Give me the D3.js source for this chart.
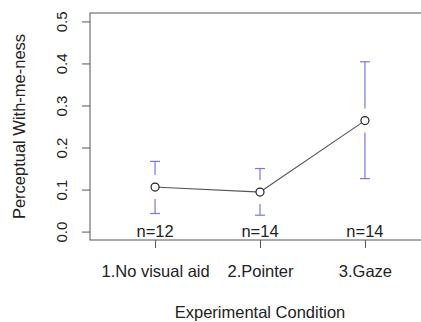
<!DOCTYPE html>
<html>
<head>
<meta charset="utf-8">
<script src="https://cdn.jsdelivr.net/npm/d3@7"></script>
<style>
  body { margin: 0; background: #fff; }
  text { font-family: "Liberation Sans", Arial, sans-serif; fill: #222; }
</style>
</head>
<body>
<script>
// data
const conditions = ["1.No visual aid", "2.Pointer", "3.Gaze"];
const means = [0.106, 0.094, 0.264];
const upper = [0.167, 0.150, 0.404];
const lower = [0.043, 0.039, 0.126];
const counts = [12, 14, 14];
const yTicks = [0, 0.1, 0.2, 0.3, 0.4, 0.5];

// canvas
const w = 421, h = 322;
const plotL = 90, plotT = 13, plotB = 240, plotR = 430;

const svg = d3.select("body").append("svg")
  .attr("width", w).attr("height", h);

// R style: x from 0.38 to 3.62, y with 4% padding
const xScale = d3.scaleLinear().domain([0.38, 3.62]).range([plotL, plotR]);
const yScale = d3.scaleLinear().domain([-0.02, 0.52]).range([plotB, plotT]);

// box
svg.append("rect")
  .attr("x", plotL).attr("y", plotT)
  .attr("width", plotR - plotL).attr("height", plotB - plotT)
  .attr("fill", "none").attr("stroke", "#555").attr("stroke-width", 1);

// y axis
const yAxis = d3.axisLeft(yScale).tickValues(yTicks).tickSize(8).tickSizeOuter(0)
  .tickFormat(d3.format(".1f"));
const gy = svg.append("g").attr("transform", "translate(" + plotL + ",0)").call(yAxis);
gy.select(".domain").remove();
gy.selectAll("line").attr("stroke", "#555");
gy.selectAll("text")
  .attr("transform", "rotate(-90)")
  .attr("x", 0).attr("y", -23).attr("dy", null)
  .attr("text-anchor", "middle")
  .style("font-size", "15px");

// x axis
const xAxis = d3.axisBottom(xScale).tickValues([1, 2, 3]).tickSize(8).tickSizeOuter(0)
  .tickFormat((d, i) => conditions[i]);
const gx = svg.append("g").attr("transform", "translate(0," + plotB + ")").call(xAxis);
gx.select(".domain").remove();
gx.selectAll("line").attr("stroke", "#555");
gx.selectAll("text").attr("y", 37).attr("dy", null).style("font-size", "16.5px");

// axis titles
svg.append("text")
  .attr("transform", "translate(25," + (plotT + plotB) / 2 + ") rotate(-90)")
  .attr("text-anchor", "middle")
  .style("font-size", "16.5px")
  .text("Perceptual With-me-ness");

svg.append("text")
  .attr("x", (plotL + plotR) / 2).attr("y", 318)
  .attr("text-anchor", "middle")
  .style("font-size", "16.5px")
  .text("Experimental Condition");

// error bars with a gap around the point
const gap = 12, cap = 5;
const eb = svg.append("g").attr("stroke", "#7878dc").attr("stroke-width", 1.2);
means.forEach((m, i) => {
  const x = xScale(i + 1), y = yScale(m);
  const yu = yScale(upper[i]), yl = yScale(lower[i]);
  eb.append("line").attr("x1", x).attr("x2", x).attr("y1", yu).attr("y2", y - gap);
  eb.append("line").attr("x1", x).attr("x2", x).attr("y1", y + gap).attr("y2", yl);
  eb.append("line").attr("x1", x - cap).attr("x2", x + cap).attr("y1", yu).attr("y2", yu);
  eb.append("line").attr("x1", x - cap).attr("x2", x + cap).attr("y1", yl).attr("y2", yl);
});

// line between means, stopping at the circles
const r = 4;
for (let i = 0; i < means.length - 1; i++) {
  const x1 = xScale(i + 1), y1 = yScale(means[i]);
  const x2 = xScale(i + 2), y2 = yScale(means[i + 1]);
  const len = Math.hypot(x2 - x1, y2 - y1);
  const ux = (x2 - x1) / len, uy = (y2 - y1) / len;
  svg.append("line")
    .attr("x1", x1 + ux * r).attr("y1", y1 + uy * r)
    .attr("x2", x2 - ux * r).attr("y2", y2 - uy * r)
    .attr("stroke", "#555").attr("stroke-width", 1.1);
}

svg.selectAll("circle.pt")
  .data(means)
  .enter()
  .append("circle")
  .attr("class", "pt")
  .attr("cx", (d, i) => xScale(i + 1))
  .attr("cy", d => yScale(d))
  .attr("r", r)
  .attr("fill", "none")
  .attr("stroke", "#222")
  .attr("stroke-width", 1.2);

// n= labels
svg.selectAll("text.n")
  .data(counts)
  .enter()
  .append("text")
  .attr("class", "n")
  .attr("x", (d, i) => xScale(i + 1))
  .attr("y", 237)
  .attr("text-anchor", "middle")
  .style("font-size", "16.5px")
  .text(d => "n=" + d);
</script>
</body>
</html>
